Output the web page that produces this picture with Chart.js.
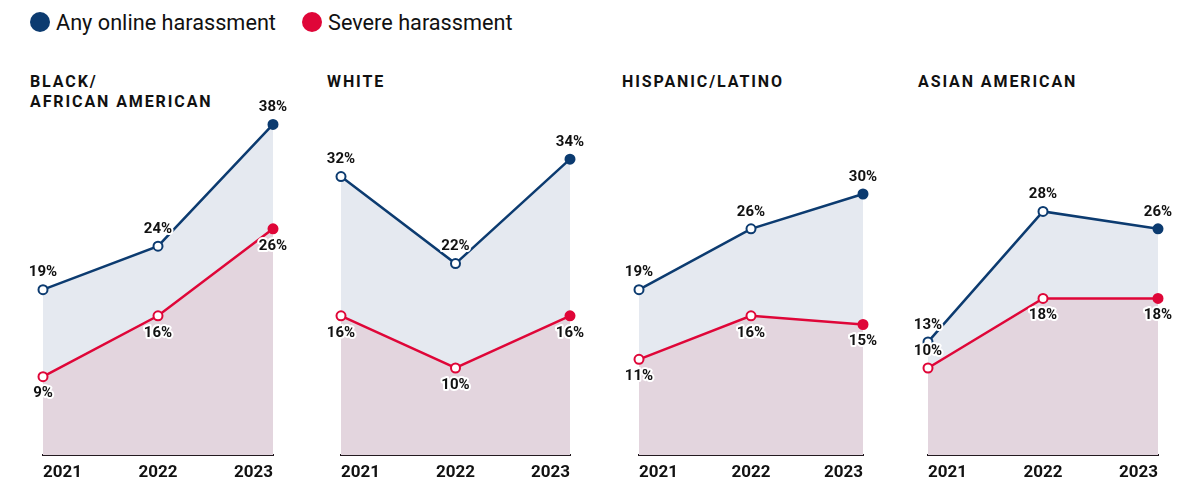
<!DOCTYPE html>
<html>
<head>
<meta charset="utf-8">
<script src="https://cdn.jsdelivr.net/npm/chart.js@4.4.1/dist/chart.umd.min.js"></script>
<style>
  html, body { margin: 0; padding: 0; background: #fff; }
  #wrap { position: relative; width: 1198px; height: 484px; overflow: hidden; font-family: Roboto, "Noto Sans", sans-serif; color: #111; }
  .legend { position: absolute; top: 8px; height: 28px; display: flex; align-items: center; font-size: 21.7px; }
  .dot { width: 20px; height: 20px; border-radius: 50%; margin-right: 6px; }
  .title { position: absolute; top: 72px; font-weight: 700; font-size: 16px; line-height: 20px; letter-spacing: 1.9px; white-space: pre; }
  .panel { position: absolute; top: 0; height: 484px; }
  .panel canvas { position: absolute; top: 0; left: 0; }
</style>
</head>
<body>
<div id="wrap"></div>
<script>
// Survey years on the x axis
const years = ['2021', '2022', '2023'];

// Group names shown above each small chart
const groupNames = ['BLACK/\nAFRICAN AMERICAN', 'WHITE', 'HISPANIC/LATINO', 'ASIAN AMERICAN'];

// Series names
const seriesNames = ['Any online harassment', 'Severe harassment'];

// Share reporting any online harassment (%)
const anyBlack    = [19, 24, 38];
const anyWhite    = [32, 22, 34];
const anyHispanic = [19, 26, 30];
const anyAsian    = [13, 28, 26];

// Share reporting severe harassment (%)
const severeBlack    = [9, 16, 26];
const severeWhite    = [16, 10, 16];
const severeHispanic = [11, 16, 15];
const severeAsian    = [10, 18, 18];

// ---- presentation ----
const NAVY = '#0c3b70';
const RED = '#df0638';
const FILL_ANY = '#e5e9f0';
const FILL_SEVERE = '#e3d5de';

const panels = [
  { any: anyBlack,    severe: severeBlack,    left: 43,  width: 230, titleX: 30,
    anySide: ['above', 'above', 'above'], severeSide: ['below', 'below', 'below'] },
  { any: anyWhite,    severe: severeWhite,    left: 341, width: 229, titleX: 327,
    anySide: ['above', 'above', 'above'], severeSide: ['below', 'below', 'below'] },
  { any: anyHispanic, severe: severeHispanic, left: 639, width: 224, titleX: 622,
    anySide: ['above', 'above', 'above'], severeSide: ['below', 'below', 'below'] },
  { any: anyAsian,    severe: severeAsian,    left: 928, width: 230, titleX: 918,
    anySide: ['above', 'above', 'above'], severeSide: ['above', 'below', 'below'] }
];

const wrap = document.getElementById('wrap');

// Legend
[[NAVY, 30], [RED, 302]].forEach(([color, x], i) => {
  const item = document.createElement('div');
  item.className = 'legend';
  item.style.left = x + 'px';
  const dot = document.createElement('div');
  dot.className = 'dot';
  dot.style.background = color;
  item.appendChild(dot);
  item.appendChild(document.createTextNode(seriesNames[i]));
  wrap.appendChild(item);
});

// Percent labels with a white halo, placed above or below each point
const valueLabels = {
  id: 'valueLabels',
  afterDatasetsDraw(chart) {
    const ctx = chart.ctx;
    ctx.save();
    ctx.font = '700 15px Roboto, "Noto Sans", sans-serif';
    ctx.textAlign = 'center';
    ctx.textBaseline = 'middle';
    ctx.lineJoin = 'round';
    chart.data.datasets.forEach((ds, di) => {
      const meta = chart.getDatasetMeta(di);
      meta.data.forEach((pt, i) => {
        const y = pt.y + (ds.labelSide[i] === 'above' ? -17 : 17);
        const text = ds.data[i] + '%';
        ctx.strokeStyle = '#fff';
        ctx.lineWidth = 4;
        ctx.strokeText(text, pt.x, y);
        ctx.fillStyle = '#111';
        ctx.fillText(text, pt.x, y);
      });
    });
    ctx.restore();
  }
};

const PAD = 30;

panels.forEach((p, idx) => {
  const title = document.createElement('div');
  title.className = 'title';
  title.style.left = p.titleX + 'px';
  title.textContent = groupNames[idx];
  wrap.appendChild(title);

  const box = document.createElement('div');
  box.className = 'panel';
  const w = p.width + PAD * 2;
  box.style.left = (p.left - PAD) + 'px';
  box.style.width = w + 'px';
  const canvas = document.createElement('canvas');
  canvas.width = w;
  canvas.height = 484;
  box.appendChild(canvas);
  wrap.appendChild(box);

  const pointFill = (c) => years.map((_, i) => (i === years.length - 1 ? c : '#fff'));

  new Chart(canvas, {
    type: 'line',
    data: {
      labels: years,
      datasets: [
        {
          label: seriesNames[0],
          data: p.any,
          labelSide: p.anySide,
          borderColor: NAVY,
          borderWidth: 2.5,
          backgroundColor: FILL_ANY,
          fill: '+1',
          pointRadius: 4.5,
          pointBorderWidth: 2,
          pointBorderColor: NAVY,
          pointBackgroundColor: pointFill(NAVY),
          tension: 0,
          clip: false
        },
        {
          label: seriesNames[1],
          data: p.severe,
          labelSide: p.severeSide,
          borderColor: RED,
          borderWidth: 2.5,
          backgroundColor: FILL_SEVERE,
          fill: 'origin',
          pointRadius: 4.5,
          pointBorderWidth: 2,
          pointBorderColor: RED,
          pointBackgroundColor: pointFill(RED),
          tension: 0,
          clip: false
        }
      ]
    },
    options: {
      responsive: false,
      animation: false,
      events: [],
      layout: { padding: { left: PAD, right: PAD, top: 107, bottom: 0 } },
      plugins: {
        legend: { display: false },
        tooltip: { enabled: false },
        title: { display: false },
        filler: { drawTime: 'beforeDatasetsDraw' }
      },
      scales: {
        x: {
          offset: false,
          grid: { display: false, drawTicks: false },
          border: { display: true, color: '#231a20', width: 2 },
          ticks: {
            align: 'inner',
            color: '#111',
            padding: 8,
            maxRotation: 0,
            autoSkip: false,
            font: { family: 'Roboto', size: 17, weight: 'bold' }
          },
          afterFit(scale) { scale.height = 29; }
        },
        y: {
          display: false,
          min: 0,
          max: 40
        }
      }
    },
    plugins: [valueLabels]
  });
});
</script>
</body>
</html>
